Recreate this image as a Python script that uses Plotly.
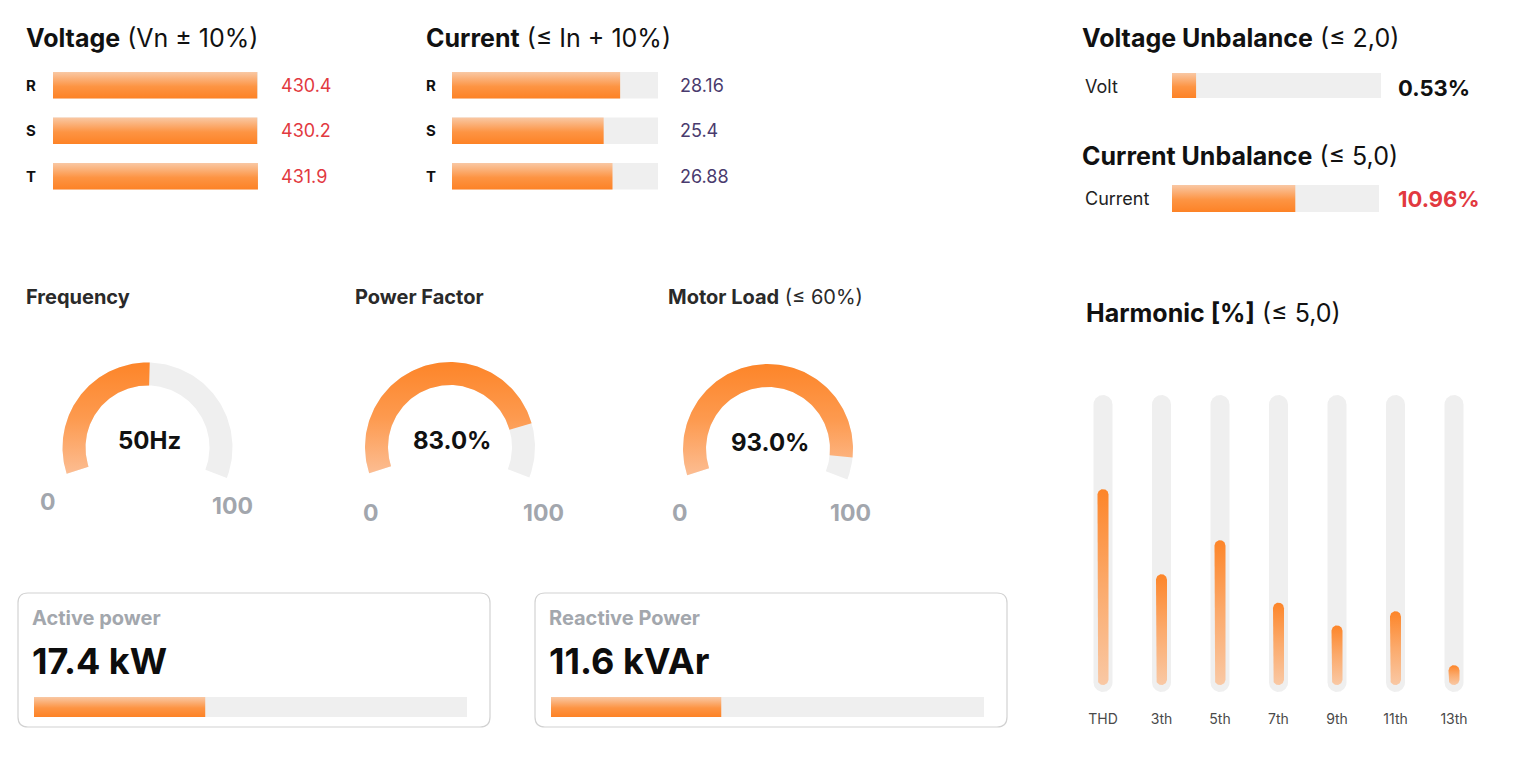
import numpy as np
import plotly.graph_objects as go

W, H = 1536, 769
FONT = "Inter"

# ---------------- data ----------------
phases = ["R", "S", "T"]
voltage_values = [430.4, 430.2, 431.9]
voltage_max = 432.0
current_values = [28.16, 25.4, 26.88]
current_max = 34.5

volt_unbalance = 0.53
volt_unbalance_max = 4.6
current_unbalance = 10.96
current_unbalance_max = 18.4

gauge_titles = ["Frequency", "Power Factor", "Motor Load"]
gauge_notes = ["", "", "(≤ 60%)"]
gauge_values = [50, 83.0, 93.0]
gauge_units = ["Hz", "%", "%"]
gauge_min = 0
gauge_max = 100

power_names = ["Active power", "Reactive Power"]
power_values = [17.4, 11.6]
power_units = ["kW", "kVAr"]
power_max = [44.0, 29.5]

harmonic_names = ["THD", "3th", "5th", "7th", "9th", "11th", "13th"]
harmonic_values = [6.9, 3.9, 5.1, 2.9, 2.1, 2.6, 0.7]
harmonic_max = 10.0

# ---------------- styles ----------------
GREY = "#efefef"
RED = "#e2393f"
PURPLE = "#4a3b6e"
BAR_GRAD = [[0, "#fd8226"], [0.45, "#fd9443"], [1, "#f9c8a4"]]
GAUGE_GRAD = [[0, "#fcbd92"], [0.5, "#fd9a4f"], [1, "#fd8529"]]
HARM_GRAD = [[0, "#f9c8a4"], [0.5, "#fbaa6c"], [1, "#fd8529"]]
TITLE_SIZE = 25

traces = []
axes = {}
annotations = []
shapes = []
_n = [0]


def new_axes(px0, px1, py0, py1, xr, yr):
    _n[0] += 1
    n = _n[0]
    s = "" if n == 1 else str(n)
    common = dict(visible=False, fixedrange=True, showgrid=False, zeroline=False)
    axes["xaxis" + s] = dict(domain=[px0 / W, px1 / W], range=xr, anchor="y" + s, **common)
    axes["yaxis" + s] = dict(domain=[1 - py1 / H, 1 - py0 / H], range=yr, anchor="x" + s, **common)
    return "x" + s, "y" + s


def poly(xa, ya, xs, ys, color=None, grad=None):
    kw = dict(x=list(xs), y=list(ys), mode="lines", fill="toself",
              line=dict(width=0), hoverinfo="skip", showlegend=False,
              xaxis=xa, yaxis=ya)
    if grad is not None:
        kw["fillgradient"] = dict(type="vertical", colorscale=grad)
        kw["fillcolor"] = grad[-1][1]
    else:
        kw["fillcolor"] = color
    traces.append(go.Scatter(**kw))


def rect(xa, ya, x0, x1, y0, y1, color=None, grad=None):
    poly(xa, ya, [x0, x1, x1, x0, x0], [y0, y0, y1, y1, y0], color, grad)


def text(px, py, s, size, color="#111111", anchor="left"):
    annotations.append(dict(x=px / W, y=1 - py / H, xref="paper", yref="paper",
                            text=s, showarrow=False, xanchor=anchor, yanchor="middle",
                            xshift=-3 if anchor == "left" else 0,
                            font=dict(size=size, color=color, family=FONT)))


# ---------------- phase bars (voltage / current) ----------------
ROW_TOP, ROW_STEP = 62.5, 45.5
HALF = 13.25 / ROW_STEP


def phase_block(px0, px1, vmax, values, label_x, value_x, value_color):
    xa, ya = new_axes(px0, px1, ROW_TOP, ROW_TOP + ROW_STEP * len(values),
                      [0, vmax], [-len(values) + 0.5, 0.5])
    for i, v in enumerate(values):
        rect(xa, ya, 0, vmax, -i - HALF, -i + HALF, color=GREY)
        rect(xa, ya, 0, min(v, vmax), -i - HALF, -i + HALF, grad=BAR_GRAD)
        cy = ROW_TOP + ROW_STEP * (i + 0.5)
        text(label_x, cy, "<b>%s</b>" % phases[i], 15)
        text(value_x, cy, str(v), 18, value_color)


text(27, 38, "<b>Voltage</b> (Vn ± 10%)", TITLE_SIZE)
phase_block(53, 258, voltage_max, voltage_values, 27, 282, RED)
text(427, 38, "<b>Current</b> (≤ In + 10%)", TITLE_SIZE)
phase_block(452, 658, current_max, current_values, 427, 681, PURPLE)

# ---------------- unbalance ----------------
def single_bar(px0, px1, py0, py1, value, vmax):
    xa, ya = new_axes(px0, px1, py0, py1, [0, vmax], [-0.5, 0.5])
    rect(xa, ya, 0, vmax, -0.5, 0.5, color=GREY)
    rect(xa, ya, 0, min(value, vmax), -0.5, 0.5, grad=BAR_GRAD)


text(1083, 38, "<b>Voltage Unbalance</b> (≤ 2,0)", TITLE_SIZE)
text(1086, 87, "Volt", 18, "#222222")
single_bar(1172, 1381, 73, 98, volt_unbalance, volt_unbalance_max)
text(1399, 88, "<b>%.2f%%</b>" % volt_unbalance, 22, "#111111")

text(1083, 156, "<b>Current Unbalance</b> (≤ 5,0)", TITLE_SIZE)
text(1086, 199, "Current", 18, "#222222")
single_bar(1172, 1379, 185, 212, current_unbalance, current_unbalance_max)
text(1399, 199, "<b>%.2f%%</b>" % current_unbalance, 22, RED)

# ---------------- gauges ----------------
GAUGE_CENTERS = [(147.5, 447.5), (450, 447), (768, 449)]
GAUGE_TITLE_X = [27, 356, 669]
MIN_LABEL_OFF = [(-100, 55), (-79, 66), (-88, 64)]
MAX_LABEL_OFF = [(85, 58), (93, 66), (82, 64)]
R_OUT_PX, R_IN_PX, BOX = 85.0, 62.0, 100.0
A0, SWEEP = 198.0, 219.0


def arc(xa, ya, f0, f1, color=None, grad=None):
    a = np.radians(np.linspace(A0 - f0 * SWEEP, A0 - f1 * SWEEP, 160))
    ri = R_IN_PX / R_OUT_PX
    xs = np.concatenate([np.cos(a), ri * np.cos(a[::-1]), [np.cos(a[0])]])
    ys = np.concatenate([np.sin(a), ri * np.sin(a[::-1]), [np.sin(a[0])]])
    poly(xa, ya, xs, ys, color, grad)


for k, v in enumerate(gauge_values):
    cx, cy = GAUGE_CENTERS[k]
    lim = BOX / R_OUT_PX
    xa, ya = new_axes(cx - BOX, cx + BOX, cy - BOX, cy + BOX, [-lim, lim], [-lim, lim])
    frac = (v - gauge_min) / (gauge_max - gauge_min)
    arc(xa, ya, 0, 1, color=GREY)
    arc(xa, ya, 0, frac, grad=GAUGE_GRAD)
    title = "<b>%s</b>" % gauge_titles[k]
    if gauge_notes[k]:
        title += " " + gauge_notes[k]
    text(GAUGE_TITLE_X[k], 297, title, 20, "#2a2a2a")
    if gauge_units[k] == "Hz":
        lab = "%g%s" % (v, gauge_units[k])
    else:
        lab = "%.1f%s" % (v, gauge_units[k])
    text(cx + 2, cy - 7, "<b>%s</b>" % lab, 24, "#111111", anchor="center")
    text(cx + MIN_LABEL_OFF[k][0], cy + MIN_LABEL_OFF[k][1], "<b>%d</b>" % gauge_min,
         23, "#a2a6ad", anchor="center")
    text(cx + MAX_LABEL_OFF[k][0], cy + MAX_LABEL_OFF[k][1], "<b>%d</b>" % gauge_max,
         23, "#a2a6ad", anchor="center")

# ---------------- power cards ----------------
CARD_X = [(18, 490), (535, 1007)]
CARD_Y = (593, 727)


def rounded_path(x0, x1, y0, y1, r):
    X = lambda p: p / W
    Y = lambda p: 1 - p / H
    return ("M %f %f L %f %f Q %f %f %f %f L %f %f Q %f %f %f %f L %f %f Q %f %f %f %f "
            "L %f %f Q %f %f %f %f Z") % (
        X(x0 + r), Y(y0), X(x1 - r), Y(y0), X(x1), Y(y0), X(x1), Y(y0 + r),
        X(x1), Y(y1 - r), X(x1), Y(y1), X(x1 - r), Y(y1),
        X(x0 + r), Y(y1), X(x0), Y(y1), X(x0), Y(y1 - r),
        X(x0), Y(y0 + r), X(x0), Y(y0), X(x0 + r), Y(y0))


for k, v in enumerate(power_values):
    x0, x1 = CARD_X[k]
    shapes.append(dict(type="path", xref="paper", yref="paper",
                       path=rounded_path(x0, x1, CARD_Y[0], CARD_Y[1], 10),
                       line=dict(color="#d2d2d2", width=1.2), fillcolor="rgba(0,0,0,0)",
                       layer="below"))
    text(x0 + 15, 618, "<b>%s</b>" % power_names[k], 20, "#a3a7ad")
    text(x0 + 15, 661, "<b>%s %s</b>" % (v, power_units[k]), 36, "#0d0d0d")
    single_bar(x0 + 16, x0 + 449, 697, 717, v, power_max[k])

# ---------------- harmonics ----------------
text(1087, 313, "<b>Harmonic [%]</b> (≤ 5,0)", TITLE_SIZE)
H_STEP, H_X0 = 58.5, 1103.0
PXU = 28.4            # pixels per % unit
ZERO_PY = 685.0
DOM_TOP, DOM_BOT = 380.0, 700.0
nh = len(harmonic_values)
hx0 = H_X0 - 0.5 * H_STEP
hx1 = H_X0 + (nh - 0.5) * H_STEP
xa, ya = new_axes(hx0, hx1, DOM_TOP, DOM_BOT, [-0.5, nh - 0.5],
                  [-(DOM_BOT - ZERO_PY) / PXU, (ZERO_PY - DOM_TOP) / PXU])
hsuffix = xa[1:]
axes["xaxis" + hsuffix].update(visible=True, showline=False, ticks="",
                               tickmode="array", tickvals=list(range(nh)),
                               ticktext=harmonic_names, ticklabelstandoff=9,
                               tickfont=dict(size=14, color="#4a4a4a", family=FONT))


def pill(xa, ya, xc, y0, y1, hw, ry, color=None, grad=None):
    t = np.linspace(0, np.pi, 40)
    xs = np.concatenate([xc + hw * np.cos(t), xc + hw * np.cos(t + np.pi)])
    ys = np.concatenate([(y1 - ry) + ry * np.sin(t), (y0 + ry) + ry * np.sin(t + np.pi)])
    xs = np.append(xs, xs[0])
    ys = np.append(ys, ys[0])
    poly(xa, ya, xs, ys, color, grad)


track_lo = -(692 - ZERO_PY) / PXU
track_hi = harmonic_max + (ZERO_PY - 395 - harmonic_max * PXU) / PXU
for i, v in enumerate(harmonic_values):
    pill(xa, ya, i, track_lo, track_hi, 9.5 / H_STEP, 9.5 / PXU, color=GREY)
    pill(xa, ya, i, 0, v, 5.5 / H_STEP, 5.5 / PXU, grad=HARM_GRAD)

fig = go.Figure(data=traces)
fig.update_layout(width=W, height=H, margin=dict(l=0, r=0, t=0, b=0),
                  paper_bgcolor="white", plot_bgcolor="rgba(0,0,0,0)",
                  showlegend=False, annotations=annotations, shapes=shapes,
                  font=dict(family=FONT), **axes)
fig.write_html("out.html", config={"displayModeBar": False})
